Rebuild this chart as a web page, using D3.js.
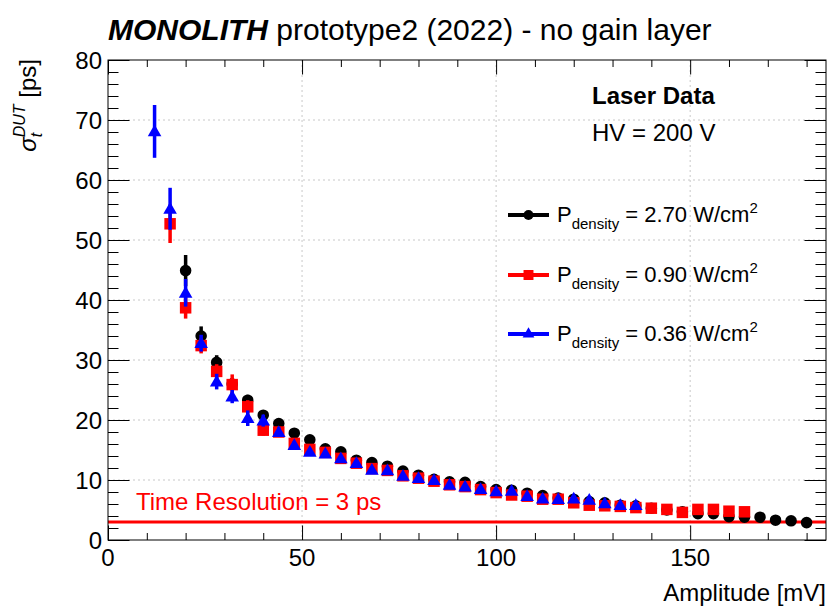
<!DOCTYPE html>
<html>
<head>
<meta charset="utf-8">
<script src="https://cdn.jsdelivr.net/npm/d3@7"></script>
<style>
  body { margin: 0; background: #fff; }
  text { font-family: "Liberation Sans", Arial, Helvetica, sans-serif; white-space: pre; }
</style>
</head>
<body>
<div id="target_div"></div>
<script>
// P = 2.70 W/cm2 (black circles)
var amp_black = [20, 24, 28, 32, 36, 40, 44, 48, 52, 56, 60, 64, 68, 72, 76, 80, 84, 88, 92, 96,
                 100, 104, 108, 112, 116, 120, 124, 128, 132, 136, 140, 144, 148, 152, 156, 160, 164, 168, 172, 176, 180];
var sigma_black = [44.9, 34.0, 29.6, 26.0, 23.3, 20.8, 19.4, 17.8, 16.7, 15.2, 14.7, 13.3, 12.9, 12.3, 11.5, 10.8, 10.1, 9.7, 9.6, 8.9,
                   8.4, 8.3, 7.8, 7.4, 7.0, 6.8, 6.4, 6.2, 5.8, 5.7, 5.3, 5.0, 4.7, 4.4, 4.4, 3.9, 3.8, 3.8, 3.3, 3.2, 2.9];
var err_black = [2.6, 1.6, 1.2, 1.0, 0.9, 0.8, 0.7, 0.6, 0.6, 0.5, 0.5, 0.5, 0.4, 0.4, 0.4, 0.4, 0.4, 0.3, 0.3, 0.3,
                 0.3, 0.3, 0.3, 0.3, 0.3, 0.3, 0.3, 0.3, 0.3, 0.3, 0.3, 0.3, 0.3, 0.3, 0.3, 0.3, 0.3, 0.3, 0.3, 0.3, 0.3];

// P = 0.90 W/cm2 (red squares)
var amp_red = [16, 20, 24, 28, 32, 36, 40, 44, 48, 52, 56, 60, 64, 68, 72, 76, 80, 84, 88, 92,
               96, 100, 104, 108, 112, 116, 120, 124, 128, 132, 136, 140, 144, 148, 152, 156, 160, 164];
var sigma_red = [52.7, 38.7, 32.4, 28.1, 25.9, 22.2, 18.3, 18.0, 16.1, 15.1, 14.6, 13.6, 12.8, 11.9, 11.6, 10.7, 10.3, 9.8, 9.2, 8.9,
                 8.4, 7.9, 7.5, 7.3, 6.8, 6.8, 6.2, 5.8, 5.7, 5.6, 5.4, 5.3, 5.1, 4.6, 5.1, 5.1, 4.8, 4.7];
var err_red = [3.2, 1.8, 1.3, 1.2, 1.7, 1.1, 0.9, 0.8, 0.7, 0.6, 0.6, 0.5, 0.5, 0.4, 0.4, 0.4, 0.4, 0.3, 0.3, 0.3,
               0.3, 0.3, 0.3, 0.3, 0.3, 0.3, 0.3, 0.3, 0.3, 0.3, 0.3, 0.3, 0.3, 0.3, 0.3, 0.3, 0.3, 0.3];

// P = 0.36 W/cm2 (blue triangles)
var amp_blue = [12, 16, 20, 24, 28, 32, 36, 40, 44, 48, 52, 56, 60, 64, 68, 72, 76, 80, 84, 88,
                92, 96, 100, 104, 108, 112, 116, 120, 124, 128, 132, 136];
var sigma_blue = [68.1, 55.2, 41.2, 32.8, 26.4, 23.9, 20.3, 19.9, 18.0, 15.8, 14.7, 14.4, 13.6, 12.8, 11.7, 11.6, 10.7, 10.3, 10.0, 9.2,
                  8.9, 8.5, 8.1, 8.2, 7.3, 6.9, 6.8, 6.9, 6.7, 6.1, 5.8, 5.8];
var err_blue = [4.4, 3.5, 2.3, 1.4, 1.3, 1.1, 1.3, 1.0, 0.8, 0.7, 0.6, 0.6, 0.5, 0.5, 0.4, 0.4, 0.4, 0.4, 0.3, 0.3,
                0.3, 0.3, 0.3, 0.3, 0.3, 0.3, 0.3, 0.3, 0.3, 0.3, 0.3, 0.3];

var legend_labels = ['2.70', '0.90', '0.36'];
var x_ticks = [0, 50, 100, 150];
var y_ticks = [0, 10, 20, 30, 40, 50, 60, 70, 80];
var time_resolution = 3;

var W = 828, H = 608;
var frame = {left: 108, right: 826, top: 60, bottom: 540};

var mapX = d3.scaleLinear().domain([0, 185]).range([frame.left, frame.right]);
var mapY = d3.scaleLinear().domain([0, 80]).range([frame.bottom, frame.top]);

var svg = d3.select('#target_div').append('svg')
  .attr('width', W).attr('height', H);

// grid
var grid = svg.append('g');
grid.selectAll('.gx').data(x_ticks.filter(d => d > 0)).enter().append('line')
  .attr('x1', d => mapX(d)).attr('x2', d => mapX(d))
  .attr('y1', frame.top).attr('y2', frame.bottom)
  .style('stroke', '#c8c8c8').style('stroke-dasharray', '2,3');
grid.selectAll('.gy').data(y_ticks.filter(d => d > 0 && d < 80)).enter().append('line')
  .attr('y1', d => mapY(d)).attr('y2', d => mapY(d))
  .attr('x1', frame.left).attr('x2', frame.right)
  .style('stroke', '#c8c8c8').style('stroke-dasharray', '2,3');

// time resolution line
svg.append('line')
  .attr('x1', frame.left).attr('x2', frame.right)
  .attr('y1', mapY(time_resolution)).attr('y2', mapY(time_resolution))
  .style('stroke', '#ff0000').style('stroke-width', 3);

svg.append('text')
  .attr('x', 136).attr('y', 510)
  .style('font-size', '24px').style('fill', '#ff0000')
  .text('Time Resolution = 3 ps');

// axes (ROOT style ticks on all sides)
function tickAxis(axis, scale, size, values, transform) {
  svg.append('g').attr('transform', transform)
    .call(axis(scale).tickValues(values).tickSizeInner(size).tickSizeOuter(0).tickFormat(''))
    .call(g => g.select('.domain').remove())
    .call(g => g.selectAll('line').style('stroke', '#000'));
}
var x_minor = d3.range(10, 185, 10).filter(d => d % 50 !== 0);
var y_minor = d3.range(2, 80, 2).filter(d => d % 10 !== 0);

tickAxis(d3.axisBottom, mapX, -14.5, x_ticks, `translate(0, ${frame.bottom})`);
tickAxis(d3.axisBottom, mapX, -7, x_minor, `translate(0, ${frame.bottom})`);
tickAxis(d3.axisTop, mapX, -14.5, x_ticks, `translate(0, ${frame.top})`);
tickAxis(d3.axisTop, mapX, -7, x_minor, `translate(0, ${frame.top})`);
tickAxis(d3.axisLeft, mapY, -21.5, y_ticks, `translate(${frame.left}, 0)`);
tickAxis(d3.axisLeft, mapY, -10.5, y_minor, `translate(${frame.left}, 0)`);
tickAxis(d3.axisRight, mapY, -21.5, y_ticks, `translate(${frame.right}, 0)`);
tickAxis(d3.axisRight, mapY, -10.5, y_minor, `translate(${frame.right}, 0)`);

// tick labels
svg.append('g').selectAll('text').data(y_ticks).enter().append('text')
  .attr('x', frame.left - 6).attr('y', d => mapY(d) + 8.5)
  .attr('text-anchor', 'end').style('font-size', '24px')
  .text(d => d);
svg.append('g').selectAll('text').data(x_ticks).enter().append('text')
  .attr('x', d => mapX(d)).attr('y', 566)
  .attr('text-anchor', 'middle').style('font-size', '24px')
  .text(d => d);

// data series
var series = [
  {amp: amp_black, sigma: sigma_black, err: err_black, color: '#000000', shape: d3.symbolCircle, size: 105},
  {amp: amp_red, sigma: sigma_red, err: err_red, color: '#ff0000', shape: d3.symbolSquare, size: 132},
  {amp: amp_blue, sigma: sigma_blue, err: err_blue, color: '#0000ff', shape: d3.symbolTriangle, size: 80}
];

series.forEach(function (s) {
  var pts = s.amp.map((a, i) => ({x: a, y: s.sigma[i], e: s.err[i]}));
  var g = svg.append('g');
  g.selectAll('line').data(pts).enter().append('line')
    .attr('x1', d => mapX(d.x)).attr('x2', d => mapX(d.x))
    .attr('y1', d => mapY(d.y - d.e)).attr('y2', d => mapY(d.y + d.e))
    .style('stroke', s.color).style('stroke-width', 3.5);
  g.selectAll('path').data(pts).enter().append('path')
    .attr('d', d3.symbol().type(s.shape).size(s.size))
    .attr('transform', d => `translate(${mapX(d.x)}, ${mapY(d.y) + (s.shape === d3.symbolTriangle ? 1 : 0)})`)
    .style('fill', s.color);
});

// frame
svg.append('rect')
  .attr('x', frame.left).attr('y', frame.top)
  .attr('width', frame.right - frame.left).attr('height', frame.bottom - frame.top)
  .style('fill', 'none').style('stroke', '#000').style('stroke-width', 1);

// legend
var legend_y = [215, 275, 334];
series.forEach(function (s, i) {
  var lg = svg.append('g').attr('transform', `translate(0, ${legend_y[i]})`);
  lg.append('line').attr('x1', 508).attr('x2', 549).attr('y1', 0).attr('y2', 0)
    .style('stroke', s.color).style('stroke-width', 4);
  lg.append('path').attr('d', d3.symbol().type(s.shape).size(s.size * 0.75))
    .attr('transform', 'translate(528.5, 0)').style('fill', s.color);
  var t = lg.append('text').attr('x', 557).attr('y', 7).style('font-size', '22px');
  t.append('tspan').text('P');
  t.append('tspan').attr('dy', 7).style('font-size', '15px').text('density');
  t.append('tspan').attr('dy', -7).text(` = ${legend_labels[i]} W/cm`);
  t.append('tspan').attr('dy', -9).style('font-size', '15px').text('2');
});

// annotations
svg.append('text').attr('x', 592).attr('y', 104)
  .style('font-size', '24px').style('font-weight', 'bold').text('Laser Data');
svg.append('text').attr('x', 592).attr('y', 141)
  .style('font-size', '24px').text('HV = 200 V');

// title
var title = svg.append('text').attr('x', 108).attr('y', 40).style('font-size', '30px');
title.append('tspan').style('font-weight', 'bold').style('font-style', 'italic').text('MONOLITH');
title.append('tspan').text(' prototype2 (2022) - no gain layer');

// axis titles
svg.append('text').attr('x', 826).attr('y', 601)
  .attr('text-anchor', 'end').style('font-size', '24px').text('Amplitude [mV]');

var yl = svg.append('text').attr('transform', 'translate(36, 59) rotate(-90)')
  .attr('text-anchor', 'end').style('font-size', '24px');
yl.append('tspan').style('font-style', 'italic').text('σ');
yl.append('tspan').attr('dy', 6).style('font-size', '16px').style('font-style', 'italic').text('t');
yl.append('tspan').attr('dx', -4.5).attr('dy', -17).style('font-size', '16px').style('font-style', 'italic').text('DUT');
yl.append('tspan').attr('dy', 11).text(' [ps]');
</script>
</body>
</html>
